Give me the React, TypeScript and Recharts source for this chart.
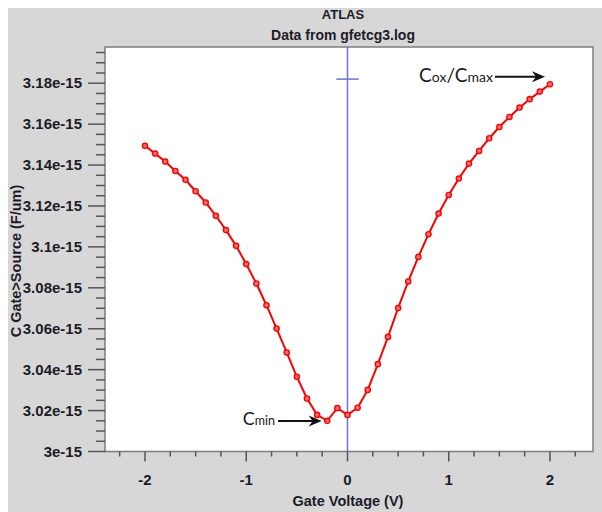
import React from "react";
import {
  LineChart,
  Line,
  XAxis,
  YAxis,
  CartesianGrid,
  ReferenceLine,
  ReferenceArea,
} from "recharts";

// Gate voltage (V)
const VOLTAGE = [
  -2, -1.9, -1.8, -1.7, -1.6, -1.5, -1.4, -1.3, -1.2, -1.1, -1, -0.9, -0.8,
  -0.7, -0.6, -0.5, -0.4, -0.3, -0.2, -0.1, 0, 0.1, 0.2, 0.3, 0.4, 0.5, 0.6,
  0.7, 0.8, 0.9, 1, 1.1, 1.2, 1.3, 1.4, 1.5, 1.6, 1.7, 1.8, 1.9, 2,
];

// C Gate>Source, in units of 1e-15 F/um
const CAPACITANCE = [
  3.1494, 3.1456, 3.1417, 3.1371, 3.1328, 3.1272, 3.1217, 3.1152, 3.1082,
  3.1005, 3.0916, 3.0821, 3.0715, 3.0601, 3.0484, 3.0365, 3.0259, 3.0179,
  3.015, 3.0212, 3.0179, 3.0214, 3.0301, 3.0427, 3.056, 3.0701, 3.0831,
  3.0951, 3.1062, 3.1163, 3.1254, 3.1334, 3.1407, 3.1469, 3.1531, 3.1586,
  3.1635, 3.1681, 3.1722, 3.1759, 3.1795,
];

const X_MAJOR = [-2, -1, 0, 1, 2];
const X_MINOR = [-2.25, -1.75, -1.5, -1.25, -0.75, -0.5, -0.25, 0.25, 0.5, 0.75, 1.25, 1.5, 1.75, 2.25];
const Y_MAJOR = [3, 3.02, 3.04, 3.06, 3.08, 3.1, 3.12, 3.14, 3.16, 3.18];
const Y_MINOR = [
  3.005, 3.01, 3.015, 3.025, 3.03, 3.035, 3.045, 3.05, 3.055, 3.065, 3.07,
  3.075, 3.085, 3.09, 3.095, 3.105, 3.11, 3.115, 3.125, 3.13, 3.135, 3.145,
  3.15, 3.155, 3.165, 3.17, 3.175, 3.185, 3.19, 3.195,
];

const X_DOMAIN: [number, number] = [-2.395, 2.425];
const Y_DOMAIN: [number, number] = [3, 3.1977];

const TITLE = "ATLAS";
const SUBTITLE = "Data from gfetcg3.log";
const X_LABEL = "Gate Voltage (V)";
const Y_LABEL = "C Gate>Source (F/um)";

// cursor marker and annotations (data coordinates)
const CURSOR = { x: 0, y: 3.182, halfWidth: 0.11 };
const CMIN_ARROW = { x1: -0.686, x2: -0.255, y: 3.0149 };
const CMAX_ARROW = { x1: 1.457, x2: 1.951, y: 3.1831 };

const data = VOLTAGE.map((v, i) => ({ v, c: CAPACITANCE[i] }));

const AXIS_FONT = "'Liberation Sans', Arial, sans-serif";
const ANNOT_FONT = "Lato, 'Open Sans', sans-serif";
const TICK_COLOR = "#555";
const TEXT_COLOR = "#1c1c28";

const XTick = (props: any) => {
  const { x, y, payload } = props;
  const major = X_MAJOR.includes(payload.value);
  return (
    <g>
      <line x1={x} x2={x} y1={y} y2={y + (major ? 10 : 5)} stroke={TICK_COLOR} strokeWidth={1.5} />
      {major && (
        <text x={x} y={y + 33} textAnchor="middle" fontFamily={AXIS_FONT} fontWeight="bold" fontSize={15} fill={TEXT_COLOR}>
          {String(payload.value)}
        </text>
      )}
    </g>
  );
};

const YTick = (props: any) => {
  const { x, y, payload } = props;
  const major = Y_MAJOR.includes(payload.value);
  return (
    <g>
      <line x1={x} x2={x - (major ? 17 : 9)} y1={y} y2={y} stroke={TICK_COLOR} strokeWidth={1.5} />
      {major && (
        <text x={x - 23} y={y + 5} textAnchor="end" fontFamily={AXIS_FONT} fontWeight="bold" fontSize={15} fill={TEXT_COLOR}>
          {`${payload.value}e-15`}
        </text>
      )}
    </g>
  );
};

const XAxisTitle = () => (
  <g>
    <text x={340} y={498} textAnchor="middle" fontFamily={AXIS_FONT} fontWeight="bold" fontSize={14.5} fill={TEXT_COLOR}>
      {X_LABEL}
    </text>
    <text x={335} y={11} textAnchor="middle" fontFamily={AXIS_FONT} fontWeight="bold" fontSize={13} fill={TEXT_COLOR}>
      {TITLE}
    </text>
    <text x={335} y={32} textAnchor="middle" fontFamily={AXIS_FONT} fontWeight="bold" fontSize={14} fill={TEXT_COLOR}>
      {SUBTITLE}
    </text>
  </g>
);

const YAxisTitle = () => (
  <text
    x={0}
    y={0}
    transform="translate(12.5, 253) rotate(-90)"
    textAnchor="middle"
    fontFamily={AXIS_FONT}
    fontWeight="bold"
    fontSize={14.5}
    fill={TEXT_COLOR}
  >
    {Y_LABEL}
  </text>
);

const Arrow = (x1: number, x2: number, y: number) => (
  <g>
    <line x1={x1} x2={x2 - 8} y1={y} y2={y} stroke="#111" strokeWidth={2} />
    <polygon points={`${x2},${y} ${x2 - 13},${y - 5.5} ${x2 - 9},${y} ${x2 - 13},${y + 5.5}`} fill="#111" />
  </g>
);

const CminShape = (props: any) => {
  const { x1, x2, y1 } = props;
  return (
    <g>
      {Arrow(x1, x2, y1)}
      <text x={x1 - 3} y={y1 + 4} textAnchor="end" fontFamily={ANNOT_FONT} fill="#1a1a1a">
        <tspan fontSize={18}>C</tspan>
        <tspan fontSize={12.5}>min</tspan>
      </text>
    </g>
  );
};

const CmaxShape = (props: any) => {
  const { x1, x2, y1 } = props;
  return (
    <g>
      {Arrow(x1, x2, y1)}
      <text x={x1 - 2} y={y1 + 5} textAnchor="end" fontFamily={ANNOT_FONT} fill="#1a1a1a">
        <tspan fontSize={19}>C</tspan>
        <tspan fontSize={14}>ox</tspan>
        <tspan fontSize={19}>/C</tspan>
        <tspan fontSize={14}>max</tspan>
      </text>
    </g>
  );
};

const Dot = (props: any) => {
  const { cx, cy, index } = props;
  if (cx == null || cy == null) return <g key={index} />;
  return <circle key={index} cx={cx} cy={cy} r={2.6} fill="#ff7070" stroke="#ff0000" strokeWidth={1.4} />;
};

export default function App() {
  return (
    <div style={{ position: "absolute", left: 8, top: 8, width: 594, height: 504, background: "#d7d7d7" }}>
      <LineChart width={594} height={504} data={data} margin={{ top: 39, right: 9, bottom: 0, left: 0 }}>
        <CartesianGrid fill="#ffffff" horizontal={false} vertical={false} />
        <XAxis
          type="number"
          dataKey="v"
          domain={X_DOMAIN}
          allowDataOverflow
          ticks={[...X_MAJOR, ...X_MINOR].sort((a, b) => a - b)}
          interval={0}
          axisLine={false}
          tickLine={false}
          tickSize={0}
          tickMargin={0}
          tick={<XTick />}
          height={60.5}
          label={<XAxisTitle />}
        />
        <YAxis
          type="number"
          domain={Y_DOMAIN}
          allowDataOverflow
          ticks={[...Y_MAJOR, ...Y_MINOR].sort((a, b) => a - b)}
          interval={0}
          axisLine={false}
          tickLine={false}
          tickSize={0}
          tickMargin={0}
          tick={<YTick />}
          width={97}
          label={<YAxisTitle />}
        />
        <ReferenceArea
          x1={X_DOMAIN[0]}
          x2={X_DOMAIN[1]}
          y1={Y_DOMAIN[0]}
          y2={Y_DOMAIN[1]}
          fill="none"
          stroke="#7d7d7d"
          strokeWidth={1.5}
          ifOverflow="visible"
        />
        <ReferenceLine x={CURSOR.x} stroke="#6f6fe6" strokeWidth={1.5} />
        <ReferenceLine
          segment={[
            { x: CURSOR.x - CURSOR.halfWidth, y: CURSOR.y },
            { x: CURSOR.x + CURSOR.halfWidth, y: CURSOR.y },
          ]}
          stroke="#6f6fe6"
          strokeWidth={1.5}
        />
        <Line
          type="linear"
          dataKey="c"
          stroke="#ff0000"
          strokeWidth={2}
          dot={<Dot />}
          activeDot={false}
          isAnimationActive={false}
        />
        <ReferenceLine
          segment={[
            { x: CMIN_ARROW.x1, y: CMIN_ARROW.y },
            { x: CMIN_ARROW.x2, y: CMIN_ARROW.y },
          ]}
          shape={<CminShape />}
          ifOverflow="visible"
        />
        <ReferenceLine
          segment={[
            { x: CMAX_ARROW.x1, y: CMAX_ARROW.y },
            { x: CMAX_ARROW.x2, y: CMAX_ARROW.y },
          ]}
          shape={<CmaxShape />}
          ifOverflow="visible"
        />
      </LineChart>
    </div>
  );
}
